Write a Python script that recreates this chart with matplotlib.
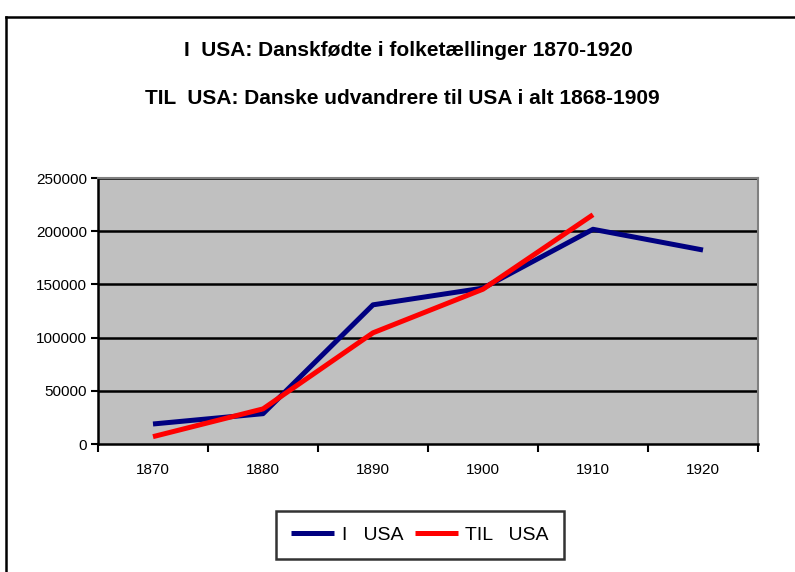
import matplotlib
matplotlib.use("Agg")
import matplotlib.pyplot as plt
from matplotlib.lines import Line2D

years = ["1870", "1880", "1890", "1900", "1910", "1920"]
i_usa = [18800, 28500, 130800, 146500, 201800, 182300]
til_usa = [6900, 33000, 104500, 145500, 215500]
yticks = [0, 50000, 100000, 150000, 200000, 250000]

W, H = 795, 572
fig = plt.figure(figsize=(W / 100, H / 100), dpi=100)
fam = ["Liberation Sans Narrow", "Liberation Sans", "DejaVu Sans"]

# outer frame
fig.add_artist(Line2D([6 / W, 1.0], [1 - 17 / H, 1 - 17 / H], color="black", lw=1.8, transform=fig.transFigure))
fig.add_artist(Line2D([6 / W, 6 / W], [0, 1 - 17 / H], color="black", lw=1.8, transform=fig.transFigure))

ax = fig.add_axes([98 / W, 1 - 444 / H, (758 - 98) / W, (444 - 178) / H])
ax.set_facecolor("#C0C0C0")
x = list(range(len(years)))
ax.plot(x, i_usa, color="#000080", lw=3.6, solid_capstyle="butt", label="I   USA", zorder=3)
ax.plot(x[:len(til_usa)], til_usa, color="#FF0000", lw=3.6, solid_capstyle="butt", label="TIL   USA", zorder=4)

ax.set_xlim(-0.5, len(years) - 0.5)
ax.set_ylim(0, 250000)
ax.set_yticks(yticks)
ax.set_yticklabels([str(v) for v in yticks], family=fam, fontsize=11)
ax.set_xticks([i + 0.5 for i in range(-1, len(years))], minor=False)
ax.set_xticklabels([])
ax.set_xticks(x, minor=True)
ax.set_xticklabels(years, minor=True, family=fam, fontsize=11)
ax.tick_params(axis="x", which="major", direction="out", length=6, width=1.5, color="black")
ax.tick_params(axis="x", which="minor", length=0, pad=14)
ax.tick_params(axis="y", direction="out", length=5, width=1.5, pad=3)
for v in yticks[1:]:
    ax.axhline(v, color="black", lw=1.8, zorder=2)
ax.spines["left"].set_color("black")
ax.spines["left"].set_linewidth(1.8)
ax.spines["bottom"].set_color("black")
ax.spines["bottom"].set_linewidth(1.8)
ax.spines["top"].set_color("#808080")
ax.spines["right"].set_color("#808080")
ax.spines["top"].set_linewidth(1.5)
ax.spines["right"].set_linewidth(1.5)

fig.text(408 / W, 1 - 50 / H, "I  USA: Danskfødte i folketællinger 1870-1920", ha="center", va="center",
         family=fam, fontsize=15, fontweight="bold")
fig.text(402 / W, 1 - 98 / H, "TIL  USA: Danske udvandrere til USA i alt 1868-1909", ha="center", va="center",
         family=fam, fontsize=15, fontweight="bold")

leg = fig.legend(loc="center", bbox_to_anchor=(420 / W, 1 - 535 / H), ncol=2, frameon=True, fancybox=False,
                 edgecolor="black", prop={"family": fam, "size": 14}, handlelength=2.2, columnspacing=0.6,
                 handletextpad=0.4, borderpad=0.8)
leg.get_frame().set_linewidth(1.8)

fig.savefig("out.png", dpi=100)
